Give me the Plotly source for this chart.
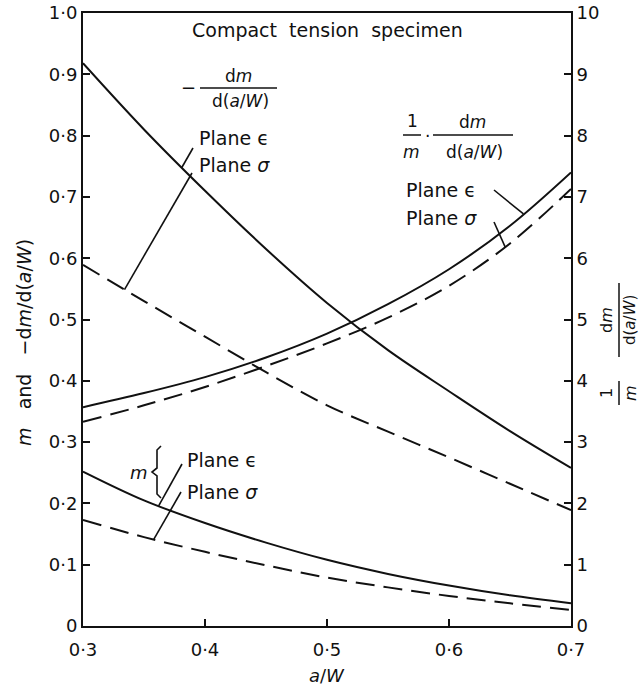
import numpy as np
import plotly.graph_objects as go

# ---------------- data ----------------
aw = [0.30, 0.35, 0.40, 0.45, 0.50, 0.55, 0.60, 0.65, 0.70]
neg_dm_eps = [0.918, 0.810, 0.710, 0.615, 0.527, 0.450, 0.383, 0.318, 0.258]
neg_dm_sig = [0.589, 0.530, 0.472, 0.414, 0.360, 0.317, 0.275, 0.232, 0.189]
rel_eps = [3.57, 3.80, 4.06, 4.38, 4.77, 5.25, 5.82, 6.53, 7.40]
rel_sig = [3.33, 3.60, 3.90, 4.24, 4.61, 5.03, 5.55, 6.24, 7.13]
m_eps = [0.252, 0.205, 0.168, 0.136, 0.108, 0.085, 0.066, 0.050, 0.037]
m_sig = [0.173, 0.145, 0.121, 0.099, 0.079, 0.063, 0.049, 0.037, 0.026]

x_ticks = [0.3, 0.4, 0.5, 0.6, 0.7]
x_labels = ["0·3", "0·4", "0·5", "0·6", "0·7"]
y_ticks = [0, 0.1, 0.2, 0.3, 0.4, 0.5, 0.6, 0.7, 0.8, 0.9, 1.0]
y_labels = ["0", "0·1", "0·2", "0·3", "0·4", "0·5", "0·6", "0·7", "0·8", "0·9", "1·0"]
y2_ticks = list(range(0, 11))
y2_labels = [str(v) for v in y2_ticks]

FONT = "DejaVu Sans"
BLACK = "#111111"
NB = "\u00a0"

fig = go.Figure()
solid = dict(color=BLACK, width=2, shape="spline")
dashed = dict(color=BLACK, width=2, dash="19px,9px", shape="spline")

fig.add_trace(go.Scatter(x=aw, y=neg_dm_eps, mode="lines", line=solid, yaxis="y"))
fig.add_trace(go.Scatter(x=aw, y=neg_dm_sig, mode="lines", line=dashed, yaxis="y"))
fig.add_trace(go.Scatter(x=aw, y=m_eps, mode="lines", line=solid, yaxis="y"))
fig.add_trace(go.Scatter(x=aw, y=m_sig, mode="lines", line=dashed, yaxis="y"))
fig.add_trace(go.Scatter(x=aw, y=rel_eps, mode="lines", line=solid, yaxis="y2"))
fig.add_trace(go.Scatter(x=aw, y=rel_sig, mode="lines", line=dashed, yaxis="y2"))

# figure fills the page (body margin removed below); plot area in page pixels
FIG_W, FIG_H = 642, 688
L, R, T, B = 83, 571, 13, 626

def px(x):
    return (x - L) / (R - L)
def py(y):
    return (B - y) / (B - T)

annots = []
shapes = []

def txt(x, y, s, size=18, angle=0, xanchor="center"):
    annots.append(dict(x=px(x), y=py(y), xref="paper", yref="paper", text=s,
                       showarrow=False, xanchor=xanchor, yanchor="middle",
                       textangle=angle, font=dict(family=FONT, size=size, color=BLACK)))

def pline(x0, y0, x1, y1, w=1.5):
    shapes.append(dict(type="line", xref="paper", yref="paper",
                       x0=px(x0), y0=py(y0), x1=px(x1), y1=py(y1),
                       line=dict(color=BLACK, width=w)))

def leader(x0, y0, a, series, axis="y"):
    # line from a label (page pixel) to the curve at a/W = a
    v = float(np.interp(a, aw, series))
    scale = 1.0 if axis == "y" else 10.0
    shapes.append(dict(type="line", xref="x", yref=axis,
                       x0=0.3 + (x0 - L) / (R - L) * 0.4,
                       y0=(B - y0) / (B - T) * scale,
                       x1=a, y1=v, line=dict(color=BLACK, width=1.6)))

# title
txt(327, 30, "Compact" + NB * 2 + "tension" + NB * 2 + "specimen", size=19)

# -dm/d(a/W) fraction
txt(188, 88, "−", size=18)
txt(238, 76, "d<i>m</i>", size=17)
pline(200, 88, 277, 88)
txt(240, 101, "d(<i>a</i>/<i>W</i>)", size=17)
txt(197, 138, "Plane" + NB + "ϵ", size=19, xanchor="left")
txt(197, 165, "Plane" + NB + "<i>σ</i>", size=19, xanchor="left")
leader(193, 148, 0.381, neg_dm_eps)
leader(192, 173, 0.334, neg_dm_sig)

# 1/m dm/d(a/W) fraction
txt(412, 121, "1", size=17)
pline(403, 135, 421, 135)
txt(411, 152, "<i>m</i>", size=17)
txt(427, 136, "·", size=17)
txt(472, 122, "d<i>m</i>", size=17)
pline(433, 135, 513, 135)
txt(474, 152, "d(<i>a</i>/<i>W</i>)", size=17)
txt(404, 190, "Plane" + NB + "ϵ", size=19, xanchor="left")
txt(404, 218, "Plane" + NB + "<i>σ</i>", size=19, xanchor="left")
leader(494, 190, 0.661, rel_eps, axis="y2")
leader(494, 222, 0.646, rel_sig, axis="y2")

# m bracket
txt(139, 472, "<i>m</i>", size=18)
bx = [(161, 446), (157, 450), (157, 468), (152, 472), (157, 476), (157, 494), (161, 498)]
path = "M " + " L ".join(f"{px(a):.5f},{py(b):.5f}" for a, b in bx)
shapes.append(dict(type="path", xref="paper", yref="paper", path=path,
                   line=dict(color=BLACK, width=1.6)))
txt(185, 460, "Plane" + NB + "ϵ", size=19, xanchor="left")
txt(185, 492, "Plane" + NB + "<i>σ</i>", size=19, xanchor="left")
leader(182, 464, 0.362, m_eps)
leader(181, 492, 0.358, m_sig)

# left axis title
txt(24, 343, "<i>m</i>" + NB * 3 + "and" + NB * 3 + "−d<i>m</i>/d(<i>a</i>/<i>W</i>)",
    size=19, angle=-90)

# right axis title (rotated fractions, close to the page edge as in the original)
txt(606, 320, "d<i>m</i>", size=16, angle=-90)
pline(619, 283, 619, 357)
txt(630, 320, "d(<i>a</i>/<i>W</i>)", size=15, angle=-90)
txt(606, 393, "1", size=16, angle=-90)
pline(619, 381, 619, 405)
txt(630, 393, "<i>m</i>", size=16, angle=-90)

# x axis title
txt(327, 675, "<i>a</i>/<i>W</i>", size=18)

axis_common = dict(showgrid=False, zeroline=False, showline=True, linecolor=BLACK,
                   linewidth=2, ticks="inside", ticklen=7, tickwidth=2,
                   tickcolor=BLACK, automargin=False, ticklabeloverflow="allow",
                   tickfont=dict(family=FONT, size=18, color=BLACK))

fig.update_layout(
    width=FIG_W, height=FIG_H,
    margin=dict(l=L, r=FIG_W - R, t=T, b=FIG_H - B, pad=0),
    paper_bgcolor="white", plot_bgcolor="white",
    showlegend=False,
    xaxis=dict(range=[0.3, 0.7], tickvals=x_ticks, ticktext=x_labels,
               mirror=True, ticklabelstandoff=6, **axis_common),
    yaxis=dict(range=[0, 1.0], tickvals=y_ticks, ticktext=y_labels, **axis_common),
    yaxis2=dict(range=[0, 10], tickvals=y2_ticks, ticktext=y2_labels,
                overlaying="y", side="right", **axis_common),
    annotations=annots,
    shapes=shapes,
)

fig.write_html("out.html",
               config={"displayModeBar": False},
               post_script="document.body.style.margin='0';document.body.style.overflow='hidden';")
